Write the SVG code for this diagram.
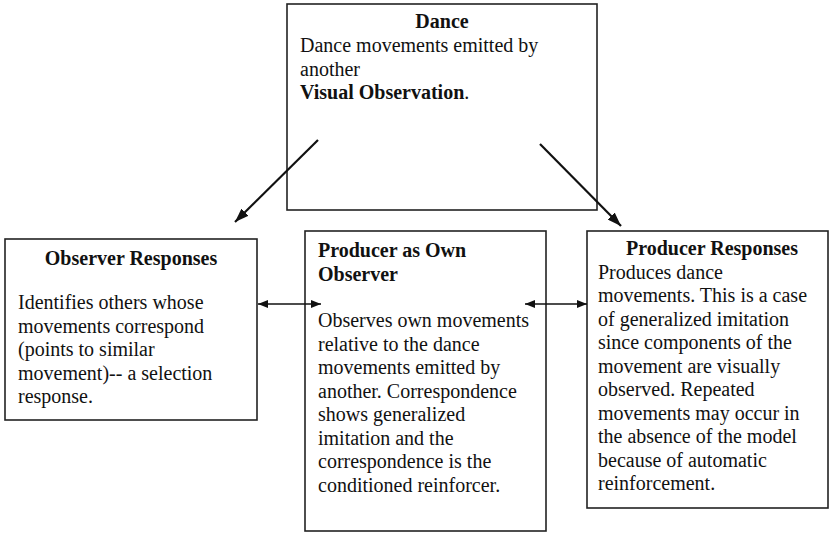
<svg xmlns="http://www.w3.org/2000/svg" width="830" height="533" viewBox="0 0 830 533" font-family="Liberation Serif, Times New Roman, Times, serif" font-size="20">
  <defs>
    <marker id="headBig" viewBox="0 0 14 10" refX="14" refY="5" markerWidth="14" markerHeight="10" markerUnits="userSpaceOnUse" orient="auto">
      <path d="M0,0 L14,5 L0,10 Z" fill="#111"/>
    </marker>
    <marker id="headSmall" viewBox="0 0 10 8" refX="10" refY="4" markerWidth="10" markerHeight="8" markerUnits="userSpaceOnUse" orient="auto-start-reverse">
      <path d="M0,0 L10,4 L0,8 Z" fill="#111"/>
    </marker>
  </defs>
  <style>
    .box { fill: #fff; stroke: #222; stroke-width: 1.6; }
    .t { fill: #111; }
    .b { font-weight: bold; }
    .mid { text-anchor: middle; }
    .diag { stroke: #111; stroke-width: 2.2; fill: none; marker-end: url(#headBig); }
    .dbl { stroke: #111; stroke-width: 1.6; fill: none; marker-start: url(#headSmall); marker-end: url(#headSmall); }
  </style>
  <rect width="830" height="533" fill="#fff"/>

  <g id="dance" class="t">
    <rect class="box" x="287" y="4" width="310" height="206"/>
    <text class="b mid" x="442" y="28">Dance</text>
    <text x="300" y="52">Dance movements emitted by</text>
    <text x="300" y="75.5">another</text>
    <text class="b" x="300" y="99">Visual Observation<tspan font-weight="normal">.</tspan></text>
  </g>

  <g id="observer-responses" class="t">
    <rect class="box" x="5" y="239" width="252" height="181"/>
    <text class="b mid" x="131" y="265">Observer Responses</text>
    <text x="18" y="309">Identifies others whose</text>
    <text x="18" y="332.5">movements correspond</text>
    <text x="18" y="356">(points to similar</text>
    <text x="18" y="379.5">movement)-- a selection</text>
    <text x="18" y="403">response.</text>
  </g>

  <g id="producer-own-observer" class="t">
    <rect class="box" x="305" y="231" width="241" height="300"/>
    <text class="b" x="318" y="257">Producer as Own</text>
    <text class="b" x="318" y="280.5">Observer</text>
    <text x="318" y="327">Observes own movements</text>
    <text x="318" y="350.5">relative to the dance</text>
    <text x="318" y="374">movements emitted by</text>
    <text x="318" y="397.5">another. Correspondence</text>
    <text x="318" y="421">shows generalized</text>
    <text x="318" y="444.5">imitation and the</text>
    <text x="318" y="468">correspondence is the</text>
    <text x="318" y="491.5">conditioned reinforcer.</text>
  </g>

  <g id="producer-responses" class="t">
    <rect class="box" x="587" y="231" width="241" height="277"/>
    <text class="b mid" x="712" y="255">Producer Responses</text>
    <text x="598" y="278.5">Produces dance</text>
    <text x="598" y="302">movements. This is a case</text>
    <text x="598" y="325.5">of generalized imitation</text>
    <text x="598" y="349">since components of the</text>
    <text x="598" y="372.5">movement are visually</text>
    <text x="598" y="396">observed. Repeated</text>
    <text x="598" y="419.5">movements may occur in</text>
    <text x="598" y="443">the absence of the model</text>
    <text x="598" y="466.5">because of automatic</text>
    <text x="598" y="490">reinforcement.</text>
  </g>

  <g id="connectors">
    <line class="diag" x1="318" y1="140" x2="235" y2="222"/>
    <line class="diag" x1="540" y1="144" x2="621" y2="226"/>
    <line class="dbl" x1="258" y1="304" x2="321" y2="304"/>
    <line class="dbl" x1="525" y1="304" x2="587" y2="304"/>
  </g>
</svg>
